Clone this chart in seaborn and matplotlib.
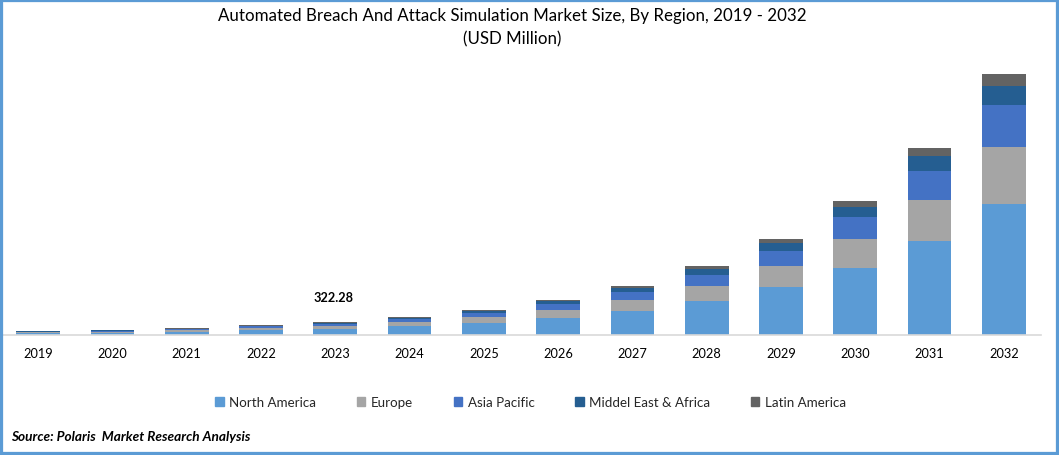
import numpy as np
import pandas as pd
import matplotlib
matplotlib.use('Agg')
import matplotlib.pyplot as plt
from matplotlib.patches import Rectangle
import seaborn as sns

years = ['2019', '2020', '2021', '2022', '2023', '2024', '2025', '2026', '2027',
         '2028', '2029', '2030', '2031', '2032']

# USD million (2023 total is labelled 322.28)
north_america = [45, 57, 79, 114, 149, 223, 298, 421, 595, 843, 1190, 1661, 2330, 3248]
europe = [20, 25, 35, 55, 69, 99, 149, 198, 273, 372, 521, 719, 1016, 1413]
asia_pacific = [17, 20, 30, 42, 55, 74, 99, 149, 198, 273, 372, 545, 719, 1041]
middle_east = [10, 12, 17, 22, 30, 37, 55, 74, 99, 149, 198, 248, 372, 471]
latin_america = [7, 10, 12, 15, 19.28, 25, 25, 25, 50, 74, 99, 149, 198, 297]

regions = ['North America', 'Europe', 'Asia Pacific', 'Middel East & Africa', 'Latin America']
colors = ['#5B9BD5', '#A5A5A5', '#4472C4', '#255E91', '#636363']

sns.set_style('white')
plt.rcParams['font.family'] = ['Lato', 'DejaVu Sans']

df = pd.DataFrame({'year': years,
                   'North America': north_america,
                   'Europe': europe,
                   'Asia Pacific': asia_pacific,
                   'Middel East & Africa': middle_east,
                   'Latin America': latin_america})

W, H = 1059, 456
fig = plt.figure(figsize=(W / 100, H / 100), dpi=100)
ax = fig.add_axes([1 / W, 1 - 336 / H, 1040 / W, 270 / H])

# stacked bars, one barplot call per region
bottom = np.zeros(len(years))
for region, color in zip(regions, colors):
    sns.barplot(data=df, x='year', y=region, order=years, color=color, width=0.59,
                bottom=bottom, saturation=1, linewidth=0, edgecolor='none', ax=ax,
                label=region, legend=False)
    bottom = bottom + df[region].to_numpy()

ax.set_xlim(-0.5, 13.5)
ax.set_ylim(0, 6693)
ax.set_xlabel('')
ax.set_ylabel('')
ax.set_yticks([])
ax.tick_params(axis='x', length=0, pad=8.3, labelsize=9.2, labelcolor='black')
sns.despine(ax=ax, left=True)
ax.spines['bottom'].set_color('#D9D9D9')
ax.spines['bottom'].set_linewidth(1.2)

# total for 2023
ax.annotate('322.28', (4, bottom[4]), xytext=(-1, 14), textcoords='offset points',
            ha='center', va='bottom', fontsize=9.2, fontweight='bold', color='black')

handles = [Rectangle((0, 0), 1, 1, color=c) for c in colors]
fig.legend(handles, regions, ncol=5, loc='center', bbox_to_anchor=(530.5 / W, 1 - 403 / H),
           frameon=False, fontsize=9.6, handlelength=0.65, handleheight=0.65,
           handletextpad=0.4, columnspacing=3.05, labelcolor='#262626')

fig.text(512.5 / W, 1 - 16 / H, 'Automated Breach And Attack Simulation Market Size, By Region, 2019 - 2032',
         ha='center', va='center', fontsize=12.2, color='black')
fig.text(512.5 / W, 1 - 39.5 / H, '(USD Million)', ha='center', va='center', fontsize=12.2, color='black')
fig.text(11 / W, 1 - 437 / H, 'Source: Polaris  Market Research Analysis', ha='left', va='center',
         fontsize=9.8, fontweight='bold', fontstyle='italic', color='black')

# blue frame round the picture
fig.add_artist(Rectangle((0, 0), 1, 1, transform=fig.transFigure, fill=False,
                         edgecolor='#5B9BD5', linewidth=4.5))

fig.savefig('out.png', dpi=100)
